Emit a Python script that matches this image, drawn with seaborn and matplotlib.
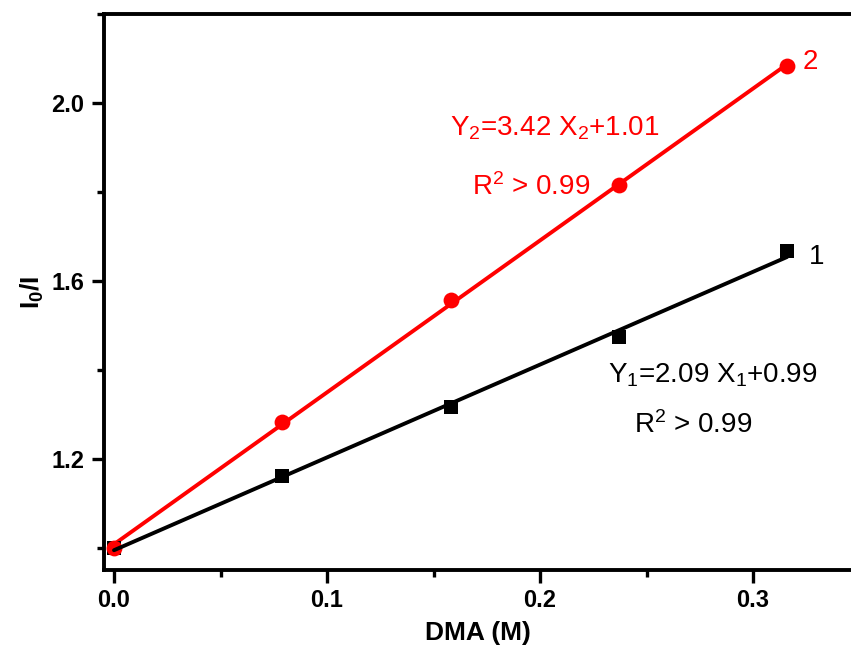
import matplotlib
matplotlib.use("Agg")
import matplotlib.pyplot as plt
import seaborn as sns
import pandas as pd
from matplotlib.ticker import MultipleLocator, FormatStrFormatter

# Data
dma = [0.0, 0.079, 0.158, 0.237, 0.316]
ratio_1 = [1.0, 1.162, 1.317, 1.475, 1.668]   # series 1 (black squares)
ratio_2 = [1.0, 1.283, 1.557, 1.816, 2.083]   # series 2 (red circles)
eq_1 = r"Y$_1$=2.09 X$_1$+0.99"
eq_2 = r"Y$_2$=3.42 X$_2$+1.01"
r2_text = r"R$^2$ > 0.99"

sns.set_theme(style="ticks")
plt.rcParams["font.family"] = ["Liberation Sans", "DejaVu Sans"]
plt.rcParams["mathtext.fontset"] = "custom"
plt.rcParams["mathtext.rm"] = "Liberation Sans"
plt.rcParams["mathtext.it"] = "Liberation Sans"
plt.rcParams["mathtext.bf"] = "Liberation Sans:bold"
plt.rcParams["mathtext.default"] = "regular"
plt.rcParams["text.color"] = "black"
plt.rcParams["axes.labelcolor"] = "black"
plt.rcParams["xtick.color"] = "black"
plt.rcParams["ytick.color"] = "black"

df1 = pd.DataFrame({"x": dma, "y": ratio_1})
df2 = pd.DataFrame({"x": dma, "y": ratio_2})

fig = plt.figure(figsize=(8.51, 6.5), dpi=100)
ax = fig.add_axes([0.1222, 0.123, 0.8778, 0.855])

red = "#FF0000"
sns.regplot(data=df2, x="x", y="y", ax=ax, ci=None, truncate=True,
            color=red, marker="o",
            scatter_kws={"s": 130, "linewidths": 0, "alpha": 1, "zorder": 3.5},
            line_kws={"lw": 2.8, "zorder": 2})
sns.regplot(data=df1, x="x", y="y", ax=ax, ci=None, truncate=True,
            color="black", marker="s",
            scatter_kws={"s": 110, "linewidths": 0, "alpha": 1, "zorder": 3},
            line_kws={"lw": 2.8, "zorder": 4})

ax.set_xlim(-0.0047, 0.346)
ax.set_ylim(0.95, 2.2)

ax.xaxis.set_major_locator(MultipleLocator(0.1))
ax.xaxis.set_minor_locator(MultipleLocator(0.05))
ax.set_yticks([1.2, 1.6, 2.0])
ax.set_yticks([1.0, 1.4, 1.8, 2.2], minor=True)
ax.xaxis.set_major_formatter(FormatStrFormatter("%.1f"))
ax.yaxis.set_major_formatter(FormatStrFormatter("%.1f"))

for s in ["left", "bottom", "top"]:
    ax.spines[s].set_linewidth(2.8)
    ax.spines[s].set_color("black")
ax.spines["right"].set_visible(False)

ax.tick_params(axis="both", which="major", direction="out", length=9, width=2.4,
               labelsize=17, pad=5, color="black", labelcolor="black")
ax.tick_params(axis="both", which="minor", direction="out", length=5, width=2.4,
               color="black")
for lab in ax.get_xticklabels() + ax.get_yticklabels():
    lab.set_fontweight("bold")

ax.set_xlabel("DMA (M)", fontsize=19, fontweight="bold", labelpad=6, color="black")
ax.set_ylabel(r"$\mathbf{I_0/I}$", fontsize=19, labelpad=4, color="black")

ax.text(0.207, 1.944, eq_2, color=red, fontsize=20, ha="center", va="center")
ax.text(0.196, 1.811, r2_text, color=red, fontsize=20, ha="center", va="center")
ax.text(0.281, 1.389, eq_1, color="black", fontsize=20, ha="center", va="center")
ax.text(0.272, 1.276, r2_text, color="black", fontsize=20, ha="center", va="center")
ax.text(0.330, 1.654, "1", color="black", fontsize=20, ha="center", va="center")
ax.text(0.327, 2.092, "2", color=red, fontsize=20, ha="center", va="center")

fig.savefig("out.png", dpi=100)
